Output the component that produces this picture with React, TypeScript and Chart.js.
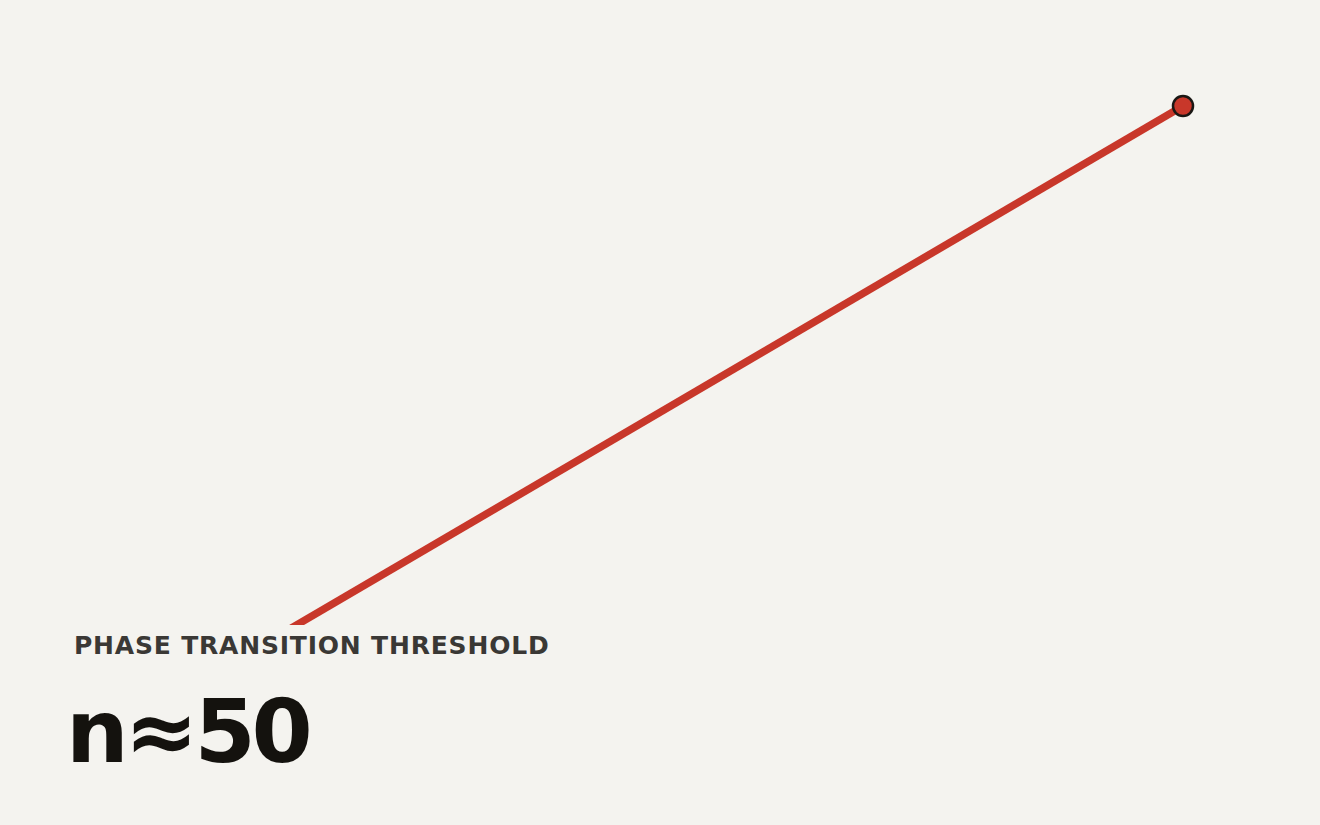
import { useEffect, useRef } from 'react'
import { Chart, registerables } from 'chart.js'

Chart.register(...registerables)

// system size n vs. order parameter (straight rise to the end point)
const sizes = [0, 50, 100]
const order = [3.0, 51.5, 100]

const kicker = 'PHASE TRANSITION THRESHOLD'
const headline = 'n≈50'

const BG = '#f4f3ef'
const RED = '#c8372a'

const App = () => {
  const canvasRef = useRef<HTMLCanvasElement | null>(null)
  const chartRef = useRef<Chart | null>(null)

  useEffect(() => {
    document.body.style.margin = '0'
    document.body.style.background = BG
    const ctx = canvasRef.current?.getContext('2d')
    if (!ctx) return

    chartRef.current = new Chart(ctx, {
      type: 'line',
      data: {
        datasets: [
          {
            data: sizes.map((x, i) => ({ x, y: order[i] })),
            borderColor: RED,
            borderWidth: 7.5,
            backgroundColor: RED,
            pointRadius: sizes.map((_, i) => (i === sizes.length - 1 ? 10 : 0)),
            pointBorderColor: '#1a1714',
            pointBorderWidth: 2.5,
            pointBackgroundColor: RED,
            clip: false,
            tension: 0,
          },
        ],
      },
      options: {
        animation: false,
        responsive: true,
        maintainAspectRatio: false,
        layout: { padding: { top: 106, right: 137, left: 0, bottom: 0 } },
        plugins: { legend: { display: false }, tooltip: { enabled: false } },
        scales: {
          x: { type: 'linear', min: 0, max: 100, display: false },
          y: { type: 'linear', min: 0, max: 100, display: false },
        },
      },
    })
    return () => chartRef.current?.destroy()
  }, [])

  return (
    <div style={{ position: 'relative', width: 1320, height: 825, background: BG, overflow: 'hidden' }}>
      <div style={{ position: 'absolute', inset: 0 }}>
        <canvas ref={canvasRef} />
      </div>
      <div
        style={{
          position: 'absolute',
          left: 0,
          top: 625,
          width: 640,
          height: 200,
          background: BG,
          fontFamily: '"DejaVu Sans", sans-serif',
        }}
      >
        <div
          style={{
            position: 'absolute',
            left: 74,
            top: 6,
            fontSize: 25,
            fontWeight: 700,
            letterSpacing: 0.8,
            color: '#3a3835',
            whiteSpace: 'nowrap',
          }}
        >
          {kicker}
        </div>
        <div
          style={{
            position: 'absolute',
            left: 66,
            top: 59,
            fontSize: 88,
            fontWeight: 700,
            letterSpacing: -4,
            lineHeight: 1.1,
            color: '#14120e',
            whiteSpace: 'nowrap',
          }}
        >
          {headline}
        </div>
      </div>
    </div>
  )
}

export default App
